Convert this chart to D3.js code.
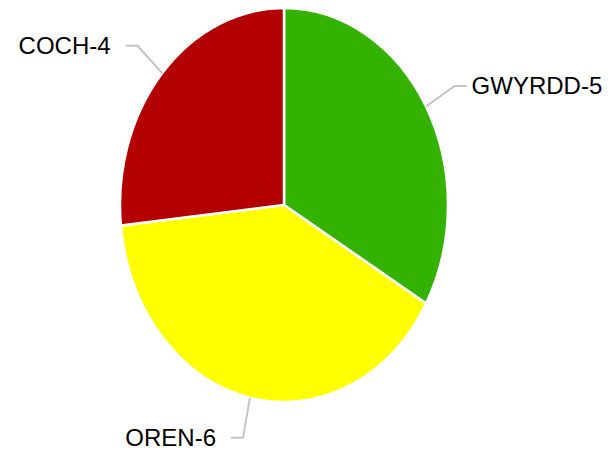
<!DOCTYPE html>
<html><head><meta charset="utf-8">
<script src="https://cdn.jsdelivr.net/npm/d3@7"></script>
<style>html,body{margin:0;padding:0;background:#fff;}svg{display:block;}</style>
</head><body>
<svg id="c" width="613" height="456"></svg>
<script>
const categories = ["GWYRDD", "OREN", "COCH"];
const values = [5, 6, 4];
const colors = ["#33b300", "#ffff00", "#b30000"];

const W = 613, H = 456;
const cx = 284, cy = 205, rx = 164, ry = 197;
const svg = d3.select("#c");
const r = 100;
const pie = d3.pie().sort(null).value(d => d.v);
const data = pie(categories.map((c, i) => ({c, v: values[i], col: colors[i]})));
const arc = d3.arc().innerRadius(0).outerRadius(r);

const g = svg.append("g").attr("transform", `translate(${cx},${cy}) scale(${rx/r},${ry/r})`);
g.selectAll("path").data(data).join("path")
  .attr("d", arc)
  .attr("fill", d => d.data.col)
  .attr("stroke", "#fff")
  .attr("stroke-width", 2.5)
  .attr("vector-effect", "non-scaling-stroke");

const ex = 33, ey = 41, hl = 12, gapR = 5, gapL = 15;
data.forEach(d => {
  const a = (d.startAngle + d.endAngle) / 2;
  const s = Math.sin(a), c = Math.cos(a);
  const p0 = [cx + rx * s, cy - ry * c];
  const p1 = [cx + (rx + ex) * s, cy - (ry + ey) * c];
  const right = s >= 0;
  const p2 = [p1[0] + (right ? hl : -hl), p1[1]];
  svg.append("polyline")
    .attr("points", [p0, p1, p2].map(p => p.join(",")).join(" "))
    .attr("fill", "none").attr("stroke", "#c4c4c4").attr("stroke-width", 2);
  svg.append("text")
    .attr("x", p2[0] + (right ? gapR : -gapL))
    .attr("y", p2[1] + 8)
    .attr("text-anchor", right ? "start" : "end")
    .attr("font-family", "Liberation Sans, Arial, sans-serif")
    .attr("font-size", 24)
    .attr("fill", "#000")
    .text(d.data.c + "-" + d.data.v);
});
</script>
</body></html>
